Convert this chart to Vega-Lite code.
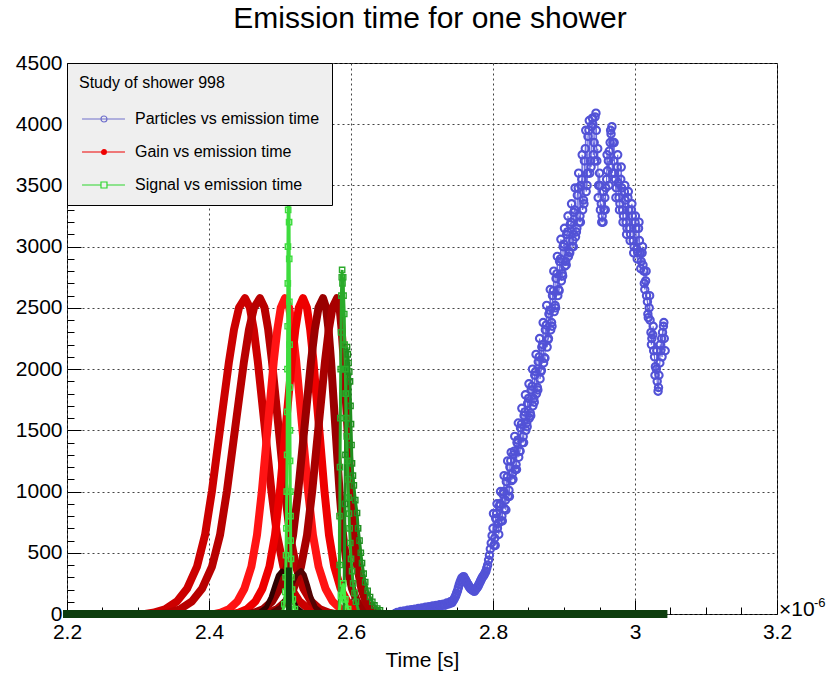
{
  "$schema": "https://vega.github.io/schema/vega-lite/v6.json",
  "width": 710,
  "height": 551,
  "autosize": {"type": "none"},
  "padding": {"left": 67, "top": 63, "right": 49, "bottom": 61},
  "background": "white",
  "title": {"text": "Emission time for one shower", "fontSize": 30, "fontWeight": "normal", "font": "Liberation Sans", "color": "#000", "anchor": "middle", "dx": 8, "offset": -6, "baseline": "alphabetic"},
  "config": {
    "font": "Liberation Sans",
    "view": {"stroke": "#000", "strokeWidth": 1},
    "axis": {"labelFont": "Liberation Sans", "titleFont": "Liberation Sans"}
  },
  "datasets": {
    "particles": [
      {"t":2.6625,"v":5},{"t":2.665,"v":12},{"t":2.6675,"v":8},{"t":2.67,"v":20},{"t":2.6725,"v":15},{"t":2.675,"v":25},{"t":2.6775,"v":18},{"t":2.68,"v":30},
      {"t":2.6825,"v":22},{"t":2.685,"v":35},{"t":2.6875,"v":28},{"t":2.69,"v":40},{"t":2.6925,"v":32},{"t":2.695,"v":45},{"t":2.6975,"v":38},{"t":2.7,"v":50},
      {"t":2.7025,"v":42},{"t":2.705,"v":55},{"t":2.7075,"v":48},{"t":2.71,"v":60},{"t":2.7125,"v":52},{"t":2.715,"v":65},{"t":2.7175,"v":58},{"t":2.72,"v":70},
      {"t":2.7225,"v":62},{"t":2.725,"v":75},{"t":2.7275,"v":68},{"t":2.73,"v":80},{"t":2.7325,"v":72},{"t":2.735,"v":90},{"t":2.7375,"v":82},{"t":2.74,"v":100},
      {"t":2.7425,"v":95},{"t":2.745,"v":120},{"t":2.7475,"v":150},{"t":2.75,"v":190},{"t":2.7525,"v":240},{"t":2.755,"v":280},{"t":2.7575,"v":300},{"t":2.76,"v":290},
      {"t":2.7625,"v":265},{"t":2.765,"v":240},{"t":2.7675,"v":215},{"t":2.77,"v":200},{"t":2.7725,"v":190},{"t":2.775,"v":195},{"t":2.7775,"v":215},{"t":2.78,"v":240},
      {"t":2.7825,"v":270},{"t":2.785,"v":300},{"t":2.7875,"v":320},{"t":2.79,"v":350},{"t":2.7925,"v":400},{"t":2.795,"v":480},{"t":2.7975,"v":580},
      {"t":2.74125,"v":90},{"t":2.74375,"v":110},{"t":2.74625,"v":135},{"t":2.74875,"v":170},{"t":2.75125,"v":215},{"t":2.75375,"v":260},{"t":2.75625,"v":295},{"t":2.75875,"v":305},
      {"t":2.76125,"v":280},{"t":2.76375,"v":250},{"t":2.76625,"v":225},{"t":2.76875,"v":205},{"t":2.77125,"v":195},{"t":2.77375,"v":185},{"t":2.77625,"v":205},{"t":2.77875,"v":225},
      {"t":2.78125,"v":255},{"t":2.78375,"v":285},{"t":2.78625,"v":310},{"t":2.78875,"v":335},{"t":2.79125,"v":375},{"t":2.79375,"v":440},{"t":2.79625,"v":530},{"t":2.79875,"v":640},
      {"t":2.8,"v":700},{"t":2.8025,"v":620},{"t":2.805,"v":820},{"t":2.8075,"v":740},{"t":2.81,"v":900},{"t":2.8125,"v":800},{"t":2.815,"v":1000},{"t":2.8175,"v":930},
      {"t":2.82,"v":1120},{"t":2.8225,"v":1010},{"t":2.825,"v":1250},{"t":2.8275,"v":1150},{"t":2.83,"v":1330},{"t":2.8325,"v":1220},{"t":2.835,"v":1420},{"t":2.8375,"v":1330},
      {"t":2.84,"v":1550},{"t":2.8425,"v":1450},{"t":2.845,"v":1650},{"t":2.8475,"v":1560},{"t":2.85,"v":1760},{"t":2.8525,"v":1640},{"t":2.855,"v":1860},{"t":2.8575,"v":1760},
      {"t":2.86,"v":1980},{"t":2.8625,"v":1850},{"t":2.865,"v":2100},{"t":2.8675,"v":1980},{"t":2.87,"v":2200},{"t":2.8725,"v":2090},{"t":2.875,"v":2360},{"t":2.8775,"v":2240},
      {"t":2.88,"v":2480},{"t":2.8825,"v":2380},{"t":2.885,"v":2640},{"t":2.8875,"v":2520},{"t":2.89,"v":2780},{"t":2.8925,"v":2650},{"t":2.895,"v":2900},{"t":2.8975,"v":2780},
      {"t":2.9,"v":3020},{"t":2.9025,"v":2880},{"t":2.905,"v":3120},{"t":2.9075,"v":2960},{"t":2.91,"v":3200},{"t":2.9125,"v":3050},{"t":2.915,"v":3300},{"t":2.9175,"v":3120},
      {"t":2.92,"v":3480},{"t":2.9225,"v":3250},{"t":2.925,"v":3550},{"t":2.9275,"v":3380},{"t":2.93,"v":3800},{"t":2.9325,"v":3500},{"t":2.935,"v":3950},{"t":2.9375,"v":3700},
      {"t":2.94,"v":4050},{"t":2.9425,"v":3850},{"t":2.945,"v":4090},{"t":2.9475,"v":3800},{"t":2.95,"v":3600},{"t":2.9525,"v":3350},{"t":2.955,"v":3200},{"t":2.9575,"v":3400},
      {"t":2.96,"v":3550},{"t":2.9625,"v":3700},{"t":2.965,"v":3850},{"t":2.9675,"v":3980},{"t":2.97,"v":3700},{"t":2.9725,"v":3550},{"t":2.975,"v":3650},{"t":2.9775,"v":3400},
      {"t":2.98,"v":3550},{"t":2.9825,"v":3300},{"t":2.985,"v":3450},{"t":2.9875,"v":3200},{"t":2.99,"v":3400},{"t":2.9925,"v":3150},{"t":2.995,"v":3300},{"t":2.9975,"v":3050},
      {"t":3.0,"v":3200},{"t":3.0025,"v":2980},{"t":3.005,"v":3150},{"t":3.0075,"v":2950},{"t":3.01,"v":2950},{"t":3.0125,"v":2800},{"t":3.015,"v":2720},{"t":3.0175,"v":2550},
      {"t":3.02,"v":2500},{"t":3.0225,"v":2300},{"t":3.025,"v":2280},{"t":3.0275,"v":2100},{"t":3.03,"v":2000},{"t":3.0325,"v":1820},{"t":3.035,"v":2050},{"t":3.0375,"v":2250},
      {"t":3.04,"v":2350},{"t":3.0425,"v":2150},
      {"t":2.80125,"v":560},{"t":2.80375,"v":780},{"t":2.80625,"v":700},{"t":2.80875,"v":880},{"t":2.81125,"v":760},{"t":2.81375,"v":980},{"t":2.81625,"v":860},{"t":2.81875,"v":1080},
      {"t":2.82125,"v":960},{"t":2.82375,"v":1200},{"t":2.82625,"v":1090},{"t":2.82875,"v":1300},{"t":2.83125,"v":1180},{"t":2.83375,"v":1400},{"t":2.83625,"v":1280},{"t":2.83875,"v":1520},
      {"t":2.84125,"v":1400},{"t":2.84375,"v":1620},{"t":2.84625,"v":1500},{"t":2.84875,"v":1720},{"t":2.85125,"v":1600},{"t":2.85375,"v":1830},{"t":2.85625,"v":1700},{"t":2.85875,"v":1950},
      {"t":2.86125,"v":1800},{"t":2.86375,"v":2060},{"t":2.86625,"v":1920},{"t":2.86875,"v":2180},{"t":2.87125,"v":2050},{"t":2.87375,"v":2320},{"t":2.87625,"v":2180},{"t":2.87875,"v":2450},
      {"t":2.88125,"v":2320},{"t":2.88375,"v":2600},{"t":2.88625,"v":2470},{"t":2.88875,"v":2740},{"t":2.89125,"v":2600},{"t":2.89375,"v":2880},{"t":2.89625,"v":2720},{"t":2.89875,"v":3000},
      {"t":2.90125,"v":2840},{"t":2.90375,"v":3100},{"t":2.90625,"v":2920},{"t":2.90875,"v":3180},{"t":2.91125,"v":3000},{"t":2.91375,"v":3280},{"t":2.91625,"v":3080},{"t":2.91875,"v":3420},
      {"t":2.92125,"v":3200},{"t":2.92375,"v":3500},{"t":2.92625,"v":3300},{"t":2.92875,"v":3700},{"t":2.93125,"v":3450},{"t":2.93375,"v":3900},{"t":2.93625,"v":3600},{"t":2.93875,"v":3980},
      {"t":2.94125,"v":3750},{"t":2.94375,"v":4060},{"t":2.94625,"v":3700},{"t":2.94875,"v":3500},{"t":2.95125,"v":3300},{"t":2.95375,"v":3250},{"t":2.95625,"v":3300},{"t":2.95875,"v":3480},
      {"t":2.96125,"v":3620},{"t":2.96375,"v":3780},{"t":2.96625,"v":3920},{"t":2.96875,"v":3850},{"t":2.97125,"v":3600},{"t":2.97375,"v":3480},{"t":2.97625,"v":3520},{"t":2.97875,"v":3350},
      {"t":2.98125,"v":3480},{"t":2.98375,"v":3250},{"t":2.98625,"v":3380},{"t":2.98875,"v":3150},{"t":2.99125,"v":3300},{"t":2.99375,"v":3100},{"t":2.99625,"v":3250},{"t":2.99875,"v":3000},
      {"t":3.00125,"v":3150},{"t":3.00375,"v":2950},{"t":3.00625,"v":3050},{"t":3.00875,"v":2880},{"t":3.01125,"v":2850},{"t":3.01375,"v":2650},{"t":3.01625,"v":2600},{"t":3.01875,"v":2420},
      {"t":3.02125,"v":2400},{"t":3.02375,"v":2250},{"t":3.02625,"v":2150},{"t":3.02875,"v":2020},{"t":3.03125,"v":1900},{"t":3.03375,"v":1950},{"t":3.03625,"v":2150},{"t":3.03875,"v":2300},
      {"t":3.04125,"v":2250},
      {"t":2.800625,"v":820},{"t":2.803125,"v":560},{"t":2.805625,"v":900},{"t":2.808125,"v":650},{"t":2.810625,"v":1000},{"t":2.813125,"v":760},{"t":2.815625,"v":1130},{"t":2.818125,"v":850},
      {"t":2.820625,"v":1250},{"t":2.823125,"v":960},{"t":2.825625,"v":1320},{"t":2.828125,"v":1100},{"t":2.830625,"v":1450},{"t":2.833125,"v":1180},{"t":2.835625,"v":1560},{"t":2.838125,"v":1330},
      {"t":2.840625,"v":1680},{"t":2.843125,"v":1400},{"t":2.845625,"v":1790},{"t":2.848125,"v":1530},{"t":2.850625,"v":1880},{"t":2.853125,"v":1620},{"t":2.855625,"v":2000},{"t":2.858125,"v":1730},
      {"t":2.860625,"v":2120},{"t":2.863125,"v":1830},{"t":2.865625,"v":2250},{"t":2.868125,"v":1990},{"t":2.870625,"v":2380},{"t":2.873125,"v":2090},{"t":2.875625,"v":2520},{"t":2.878125,"v":2250},
      {"t":2.880625,"v":2650},{"t":2.883125,"v":2350},{"t":2.885625,"v":2800},{"t":2.888125,"v":2500},{"t":2.890625,"v":2920},{"t":2.893125,"v":2640},{"t":2.895625,"v":3060},{"t":2.898125,"v":2760},
      {"t":2.900625,"v":3150},{"t":2.903125,"v":2850},{"t":2.905625,"v":3250},{"t":2.908125,"v":2950},{"t":2.910625,"v":3350},{"t":2.913125,"v":3000},{"t":2.915625,"v":3480},{"t":2.918125,"v":3150},
      {"t":2.920625,"v":3600},{"t":2.923125,"v":3200},{"t":2.925625,"v":3750},{"t":2.928125,"v":3350},{"t":2.930625,"v":3950},{"t":2.933125,"v":3600},{"t":2.935625,"v":4030},{"t":2.938125,"v":3650},
      {"t":2.940625,"v":4000},{"t":2.943125,"v":3700},{"t":2.945625,"v":3950},{"t":2.948125,"v":3400},{"t":2.950625,"v":3500},{"t":2.953125,"v":3200},{"t":2.955625,"v":3450},{"t":2.958125,"v":3300},
      {"t":2.960625,"v":3750},{"t":2.963125,"v":3500},{"t":2.965625,"v":3950},{"t":2.968125,"v":3600},{"t":2.970625,"v":3850},{"t":2.973125,"v":3400},{"t":2.975625,"v":3750},{"t":2.978125,"v":3300},
      {"t":2.980625,"v":3650},{"t":2.983125,"v":3200},{"t":2.985625,"v":3500},{"t":2.988125,"v":3100},{"t":2.990625,"v":3450},{"t":2.993125,"v":3050},{"t":2.995625,"v":3350},{"t":2.998125,"v":2950},
      {"t":3.000625,"v":3250},{"t":3.003125,"v":2900},{"t":3.005625,"v":3200},{"t":3.008125,"v":2820},{"t":3.010625,"v":3000},{"t":3.013125,"v":2700},{"t":3.015625,"v":2800},{"t":3.018125,"v":2450},
      {"t":3.020625,"v":2600},{"t":3.023125,"v":2200},{"t":3.025625,"v":2350},{"t":3.028125,"v":1950},{"t":3.030625,"v":2150},{"t":3.033125,"v":1850},{"t":3.035625,"v":2200},{"t":3.038125,"v":2100},
      {"t":3.040625,"v":2380}
    ],
    "gain": [
      {"curve":"A","t":2.3099,"v":0},{"curve":"A","t":2.3211,"v":10},{"curve":"A","t":2.338,"v":39},{"curve":"A","t":2.3549,"v":103},{"curve":"A","t":2.369,"v":206},{"curve":"A","t":2.3831,"v":387},{"curve":"A","t":2.3944,"v":645},{"curve":"A","t":2.4042,"v":1006},{"curve":"A","t":2.4141,"v":1445},{"curve":"A","t":2.4211,"v":1754},{"curve":"A","t":2.4282,"v":2064},{"curve":"A","t":2.4352,"v":2322},{"curve":"A","t":2.4423,"v":2503},{"curve":"A","t":2.4507,"v":2580},
      {"curve":"A","t":2.4575,"v":2503},{"curve":"A","t":2.4631,"v":2322},{"curve":"A","t":2.4687,"v":2064},{"curve":"A","t":2.4744,"v":1754},{"curve":"A","t":2.48,"v":1445},{"curve":"A","t":2.4879,"v":1006},{"curve":"A","t":2.4958,"v":645},{"curve":"A","t":2.5048,"v":387},{"curve":"A","t":2.5161,"v":206},{"curve":"A","t":2.5273,"v":103},{"curve":"A","t":2.5408,"v":39},{"curve":"A","t":2.5544,"v":10},{"curve":"A","t":2.5634,"v":0},
      {"curve":"B","t":2.331,"v":0},{"curve":"B","t":2.3422,"v":10},{"curve":"B","t":2.3591,"v":39},{"curve":"B","t":2.376,"v":103},{"curve":"B","t":2.3901,"v":206},{"curve":"B","t":2.4042,"v":387},{"curve":"B","t":2.4155,"v":645},{"curve":"B","t":2.4253,"v":1006},{"curve":"B","t":2.4352,"v":1445},{"curve":"B","t":2.4422,"v":1754},{"curve":"B","t":2.4493,"v":2064},{"curve":"B","t":2.4563,"v":2322},{"curve":"B","t":2.4634,"v":2503},{"curve":"B","t":2.4718,"v":2580},
      {"curve":"B","t":2.4781,"v":2503},{"curve":"B","t":2.4834,"v":2322},{"curve":"B","t":2.4887,"v":2064},{"curve":"B","t":2.494,"v":1754},{"curve":"B","t":2.4993,"v":1445},{"curve":"B","t":2.5067,"v":1006},{"curve":"B","t":2.5141,"v":645},{"curve":"B","t":2.5225,"v":387},{"curve":"B","t":2.5331,"v":206},{"curve":"B","t":2.5436,"v":103},{"curve":"B","t":2.5563,"v":39},{"curve":"B","t":2.569,"v":10},{"curve":"B","t":2.5774,"v":0},
      {"curve":"C","t":2.4084,"v":0},{"curve":"C","t":2.4163,"v":10},{"curve":"C","t":2.4281,"v":39},{"curve":"C","t":2.44,"v":103},{"curve":"C","t":2.4498,"v":206},{"curve":"C","t":2.4597,"v":387},{"curve":"C","t":2.4676,"v":645},{"curve":"C","t":2.4745,"v":1006},{"curve":"C","t":2.4814,"v":1445},{"curve":"C","t":2.4863,"v":1754},{"curve":"C","t":2.4912,"v":2064},{"curve":"C","t":2.4962,"v":2322},{"curve":"C","t":2.5011,"v":2503},{"curve":"C","t":2.507,"v":2580},
      {"curve":"C","t":2.5129,"v":2503},{"curve":"C","t":2.5178,"v":2322},{"curve":"C","t":2.5228,"v":2064},{"curve":"C","t":2.5277,"v":1754},{"curve":"C","t":2.5326,"v":1445},{"curve":"C","t":2.5395,"v":1006},{"curve":"C","t":2.5464,"v":645},{"curve":"C","t":2.5543,"v":387},{"curve":"C","t":2.5642,"v":206},{"curve":"C","t":2.574,"v":103},{"curve":"C","t":2.5859,"v":39},{"curve":"C","t":2.5977,"v":10},{"curve":"C","t":2.6056,"v":0},
      {"curve":"D","t":2.4338,"v":0},{"curve":"D","t":2.4417,"v":10},{"curve":"D","t":2.4535,"v":39},{"curve":"D","t":2.4654,"v":103},{"curve":"D","t":2.4752,"v":206},{"curve":"D","t":2.4851,"v":387},{"curve":"D","t":2.493,"v":645},{"curve":"D","t":2.4999,"v":1006},{"curve":"D","t":2.5068,"v":1445},{"curve":"D","t":2.5117,"v":1754},{"curve":"D","t":2.5166,"v":2064},{"curve":"D","t":2.5216,"v":2322},{"curve":"D","t":2.5265,"v":2503},{"curve":"D","t":2.5324,"v":2580},
      {"curve":"D","t":2.5379,"v":2503},{"curve":"D","t":2.5425,"v":2322},{"curve":"D","t":2.5471,"v":2064},{"curve":"D","t":2.5516,"v":1754},{"curve":"D","t":2.5562,"v":1445},{"curve":"D","t":2.5626,"v":1006},{"curve":"D","t":2.569,"v":645},{"curve":"D","t":2.5764,"v":387},{"curve":"D","t":2.5855,"v":206},{"curve":"D","t":2.5947,"v":103},{"curve":"D","t":2.6056,"v":39},{"curve":"D","t":2.6166,"v":10},{"curve":"D","t":2.624,"v":0},
      {"curve":"E","t":2.455,"v":0},{"curve":"E","t":2.4634,"v":10},{"curve":"E","t":2.4761,"v":39},{"curve":"E","t":2.4888,"v":103},{"curve":"E","t":2.4993,"v":206},{"curve":"E","t":2.5099,"v":387},{"curve":"E","t":2.5184,"v":645},{"curve":"E","t":2.5257,"v":1006},{"curve":"E","t":2.5331,"v":1445},{"curve":"E","t":2.5384,"v":1754},{"curve":"E","t":2.5437,"v":2064},{"curve":"E","t":2.549,"v":2322},{"curve":"E","t":2.5543,"v":2503},{"curve":"E","t":2.5606,"v":2580},
      {"curve":"E","t":2.5648,"v":2503},{"curve":"E","t":2.5684,"v":2322},{"curve":"E","t":2.5719,"v":2064},{"curve":"E","t":2.5754,"v":1754},{"curve":"E","t":2.5789,"v":1445},{"curve":"E","t":2.5838,"v":1006},{"curve":"E","t":2.5888,"v":645},{"curve":"E","t":2.5944,"v":387},{"curve":"E","t":2.6015,"v":206},{"curve":"E","t":2.6085,"v":103},{"curve":"E","t":2.6169,"v":39},{"curve":"E","t":2.6254,"v":10},{"curve":"E","t":2.631,"v":0},
      {"curve":"F","t":2.4747,"v":0},{"curve":"F","t":2.4831,"v":10},{"curve":"F","t":2.4958,"v":39},{"curve":"F","t":2.5085,"v":103},{"curve":"F","t":2.519,"v":206},{"curve":"F","t":2.5296,"v":387},{"curve":"F","t":2.5381,"v":645},{"curve":"F","t":2.5454,"v":1006},{"curve":"F","t":2.5528,"v":1445},{"curve":"F","t":2.5581,"v":1754},{"curve":"F","t":2.5634,"v":2064},{"curve":"F","t":2.5687,"v":2322},{"curve":"F","t":2.574,"v":2503},{"curve":"F","t":2.5803,"v":2580},
      {"curve":"F","t":2.5839,"v":2503},{"curve":"F","t":2.5868,"v":2322},{"curve":"F","t":2.5898,"v":2064},{"curve":"F","t":2.5927,"v":1754},{"curve":"F","t":2.5957,"v":1445},{"curve":"F","t":2.5998,"v":1006},{"curve":"F","t":2.604,"v":645},{"curve":"F","t":2.6087,"v":387},{"curve":"F","t":2.6146,"v":206},{"curve":"F","t":2.6205,"v":103},{"curve":"F","t":2.6276,"v":39},{"curve":"F","t":2.6347,"v":10},{"curve":"F","t":2.6395,"v":0}
    ],
    "smallgain": [
      {"curve":"K1","t":2.4563,"v":0},{"curve":"K1","t":2.4712,"v":14},{"curve":"K1","t":2.4805,"v":53},{"curve":"K1","t":2.4874,"v":137},{"curve":"K1","t":2.4931,"v":238},{"curve":"K1","t":2.4977,"v":315},{"curve":"K1","t":2.5028,"v":350},
      {"curve":"K1","t":2.5074,"v":315},{"curve":"K1","t":2.5117,"v":238},{"curve":"K1","t":2.5167,"v":137},{"curve":"K1","t":2.5231,"v":53},{"curve":"K1","t":2.5315,"v":14},{"curve":"K1","t":2.5451,"v":0},
      {"curve":"K2","t":2.469,"v":0},{"curve":"K2","t":2.4885,"v":14},{"curve":"K2","t":2.5006,"v":53},{"curve":"K2","t":2.5096,"v":138},{"curve":"K2","t":2.5169,"v":241},{"curve":"K2","t":2.523,"v":320},{"curve":"K2","t":2.5296,"v":355},
      {"curve":"K2","t":2.5342,"v":320},{"curve":"K2","t":2.5385,"v":241},{"curve":"K2","t":2.5435,"v":138},{"curve":"K2","t":2.5499,"v":53},{"curve":"K2","t":2.5583,"v":14},{"curve":"K2","t":2.5719,"v":0}
    ],
    "signal": [
      {"curve":"G3","t":2.59,"v":0},{"curve":"G3","t":2.5915,"v":900},{"curve":"G3","t":2.5922,"v":1300},{"curve":"G3","t":2.593,"v":1800},{"curve":"G3","t":2.5937,"v":2000},{"curve":"G3","t":2.5944,"v":2180},{"curve":"G3","t":2.5955,"v":2120},{"curve":"G3","t":2.5965,"v":2050},{"curve":"G3","t":2.5975,"v":1980},{"curve":"G3","t":2.5986,"v":1900},{"curve":"G3","t":2.5993,"v":1700},{"curve":"G3","t":2.6,"v":1550},{"curve":"G3","t":2.6007,"v":1380},{"curve":"G3","t":2.6014,"v":1230},{"curve":"G3","t":2.6027,"v":1130},{"curve":"G3","t":2.604,"v":1050},{"curve":"G3","t":2.606,"v":930},{"curve":"G3","t":2.6085,"v":825},{"curve":"G3","t":2.61,"v":700},{"curve":"G3","t":2.612,"v":600},{"curve":"G3","t":2.6138,"v":500},{"curve":"G3","t":2.6155,"v":416},{"curve":"G3","t":2.6178,"v":330},{"curve":"G3","t":2.62,"v":260},{"curve":"G3","t":2.6234,"v":190},{"curve":"G3","t":2.6268,"v":139},{"curve":"G3","t":2.63,"v":100},{"curve":"G3","t":2.633,"v":70},{"curve":"G3","t":2.637,"v":45},{"curve":"G3","t":2.6408,"v":30},{"curve":"G3","t":2.648,"v":0},
      {"curve":"G2","t":2.5835,"v":0},{"curve":"G2","t":2.5838,"v":800},{"curve":"G2","t":2.584,"v":400},{"curve":"G2","t":2.5845,"v":1200},{"curve":"G2","t":2.585,"v":1600},{"curve":"G2","t":2.5855,"v":2000},{"curve":"G2","t":2.586,"v":2300},{"curve":"G2","t":2.5865,"v":2600},{"curve":"G2","t":2.587,"v":2750},{"curve":"G2","t":2.5875,"v":2810},{"curve":"G2","t":2.588,"v":2700},{"curve":"G2","t":2.589,"v":2750},{"curve":"G2","t":2.5895,"v":2600},{"curve":"G2","t":2.5905,"v":2450},{"curve":"G2","t":2.591,"v":2200},{"curve":"G2","t":2.592,"v":2000},{"curve":"G2","t":2.5925,"v":1800},{"curve":"G2","t":2.5935,"v":1600},{"curve":"G2","t":2.594,"v":1450},{"curve":"G2","t":2.595,"v":1250},{"curve":"G2","t":2.5958,"v":1100},{"curve":"G2","t":2.5965,"v":950},{"curve":"G2","t":2.5972,"v":820},{"curve":"G2","t":2.598,"v":700},{"curve":"G2","t":2.599,"v":580},{"curve":"G2","t":2.6,"v":450},{"curve":"G2","t":2.6015,"v":350},{"curve":"G2","t":2.603,"v":250},{"curve":"G2","t":2.605,"v":170},{"curve":"G2","t":2.607,"v":100},{"curve":"G2","t":2.612,"v":0},
      {"curve":"G1","t":2.503,"v":0},{"curve":"G1","t":2.506,"v":80},{"curve":"G1","t":2.5075,"v":180},{"curve":"G1","t":2.508,"v":300},{"curve":"G1","t":2.5085,"v":480},{"curve":"G1","t":2.509,"v":700},{"curve":"G1","t":2.5095,"v":1000},{"curve":"G1","t":2.51,"v":1300},{"curve":"G1","t":2.5102,"v":1650},{"curve":"G1","t":2.5105,"v":2000},{"curve":"G1","t":2.5108,"v":2350},{"curve":"G1","t":2.511,"v":2700},{"curve":"G1","t":2.5112,"v":3000},{"curve":"G1","t":2.5115,"v":3300},{"curve":"G1","t":2.5118,"v":3500},{"curve":"G1","t":2.512,"v":3700},{"curve":"G1","t":2.5122,"v":3650},{"curve":"G1","t":2.5125,"v":3500},{"curve":"G1","t":2.5128,"v":3200},{"curve":"G1","t":2.513,"v":2900},{"curve":"G1","t":2.5132,"v":2550},{"curve":"G1","t":2.5135,"v":2200},{"curve":"G1","t":2.5138,"v":1850},{"curve":"G1","t":2.514,"v":1500},{"curve":"G1","t":2.5142,"v":1250},{"curve":"G1","t":2.5145,"v":1000},{"curve":"G1","t":2.5148,"v":800},{"curve":"G1","t":2.515,"v":600},{"curve":"G1","t":2.5155,"v":450},{"curve":"G1","t":2.516,"v":300},{"curve":"G1","t":2.517,"v":200},{"curve":"G1","t":2.518,"v":120},{"curve":"G1","t":2.521,"v":40},{"curve":"G1","t":2.525,"v":0},
      {"curve":"G4","t":2.583,"v":0},{"curve":"G4","t":2.586,"v":150},{"curve":"G4","t":2.589,"v":250},{"curve":"G4","t":2.592,"v":120},{"curve":"G4","t":2.596,"v":40},{"curve":"G4","t":2.6,"v":0}
    ],
    "floor": [
      {"part":"base","t":2.2,"v":0},{"part":"base","t":3.04,"v":0},
      {"part":"stem","t":2.5125,"v":0},{"part":"stem","t":2.5125,"v":380}
    ],
    "exponent": [
      {"t":3.2,"v":0,"s":"×10","p":"-6"}
    ],
    "entries": [
      {"entry":"Particles vs emission time","t":2.0,"v":0},
      {"entry":"Gain vs emission time","t":2.0,"v":0},
      {"entry":"Signal vs emission time","t":2.0,"v":0}
    ]
  },
  "encoding": {
    "x": {
      "field": "t", "type": "quantitative",
      "scale": {"domain": [2.2, 3.2], "nice": false, "zero": false},
      "axis": {
        "title": "Time [s]", "titleFontSize": 21, "titleFontWeight": "normal", "titleColor": "#000", "titleY": 52, "titleBaseline": "alphabetic",
        "values": [2.2, 2.25, 2.3, 2.35, 2.4, 2.45, 2.5, 2.55, 2.6, 2.65, 2.7, 2.75, 2.8, 2.85, 2.9, 2.95, 3.0, 3.05, 3.1, 3.15, 3.2],
        "labelExpr": "abs(datum.value * 5 - round(datum.value * 5)) < 0.001 ? format(datum.value, '~g') : ''",
        "labelFontSize": 21, "labelColor": "#000", "labelPadding": 21, "labelFlush": false, "labelOverlap": false,
        "tickSize": {"condition": {"test": "abs(datum.value * 5 - round(datum.value * 5)) < 0.001", "value": -14}, "value": -7},
        "tickColor": "#000", "tickWidth": 1,
        "grid": true, "gridColor": "#444", "gridDash": [2, 3], "gridWidth": 1,
        "gridOpacity": {"condition": {"test": "abs(datum.value * 5 - round(datum.value * 5)) < 0.001", "value": 1}, "value": 0},
        "domain": false
      }
    },
    "y": {
      "field": "v", "type": "quantitative",
      "scale": {"domain": [0, 4500], "nice": false},
      "axis": {
        "title": null,
        "values": [0,100,200,300,400,500,600,700,800,900,1000,1100,1200,1300,1400,1500,1600,1700,1800,1900,2000,2100,2200,2300,2400,2500,2600,2700,2800,2900,3000,3100,3200,3300,3400,3500,3600,3700,3800,3900,4000,4100,4200,4300,4400,4500],
        "labelExpr": "datum.value % 500 === 0 ? format(datum.value, 'd') : ''",
        "labelFontSize": 21, "labelColor": "#000", "labelPadding": 19, "labelOverlap": false,
        "tickSize": {"condition": {"test": "datum.value % 500 === 0", "value": -14}, "value": -7},
        "tickColor": "#000", "tickWidth": 1,
        "grid": true, "gridColor": "#444", "gridDash": [2, 3], "gridWidth": 1,
        "gridOpacity": {"condition": {"test": "datum.value % 500 === 0", "value": 1}, "value": 0},
        "domain": false
      }
    }
  },
  "layer": [
    {
      "data": {"name": "particles"},
      "mark": {"type": "line", "color": "#6a6ae0", "strokeWidth": 1.2, "clip": true}
    },
    {
      "data": {"name": "particles"},
      "mark": {"type": "point", "shape": "circle", "filled": false, "color": "#5252d6", "size": 54, "strokeWidth": 2.1, "opacity": 1, "clip": true}
    },
    {
      "data": {"name": "gain"},
      "mark": {"type": "line", "strokeWidth": 8, "strokeCap": "round", "strokeJoin": "round", "clip": true},
      "encoding": {
        "color": {"field": "curve", "type": "nominal", "legend": null,
          "scale": {"domain": ["A", "B", "C", "D", "E", "F"], "range": ["#cc0000", "#b80000", "#ff1414", "#ee0000", "#990000", "#a80000"]}}
      }
    },
    {
      "data": {"name": "smallgain"},
      "mark": {"type": "line", "strokeWidth": 5, "strokeCap": "round", "strokeJoin": "round", "clip": true},
      "encoding": {
        "color": {"field": "curve", "type": "nominal", "legend": null,
          "scale": {"domain": ["K1", "K2"], "range": ["#300000", "#520303"]}}
      }
    },
    {
      "data": {"name": "signal"},
      "mark": {"type": "line", "strokeWidth": 3, "clip": true},
      "encoding": {
        "color": {"field": "curve", "type": "nominal", "legend": null,
          "scale": {"domain": ["G1", "G2", "G3", "G4"], "range": ["#3ddc3d", "#2aaa2a", "#1f8f1f", "#44ee44"]}}
      }
    },
    {
      "data": {"name": "signal"},
      "mark": {"type": "point", "shape": "square", "filled": false, "size": 28, "strokeWidth": 1.4, "opacity": 1, "clip": true},
      "encoding": {
        "color": {"field": "curve", "type": "nominal", "legend": null,
          "scale": {"domain": ["G1", "G2", "G3", "G4"], "range": ["#3ddc3d", "#2aaa2a", "#1f8f1f", "#44ee44"]}}
      }
    },
    {
      "data": {"name": "floor"},
      "transform": [{"filter": "datum.part === 'stem'"}],
      "mark": {"type": "line", "color": "#0d3d0d", "strokeWidth": 6},
      "encoding": {}
    },
    {
      "data": {"name": "floor"},
      "transform": [{"filter": "datum.part === 'base'"}],
      "mark": {"type": "line", "color": "#0d3d0d", "strokeWidth": 8, "strokeCap": "square"},
      "encoding": {}
    },
    {
      "data": {"name": "exponent"},
      "mark": {"type": "text", "align": "left", "baseline": "alphabetic", "dx": 2, "dy": 2, "fontSize": 21, "font": "Liberation Sans", "color": "#000"},
      "encoding": {"text": {"field": "s"}}
    },
    {
      "data": {"name": "exponent"},
      "mark": {"type": "text", "align": "left", "baseline": "alphabetic", "dx": 37, "dy": -7, "fontSize": 13, "font": "Liberation Sans", "color": "#000"},
      "encoding": {"text": {"field": "p"}}
    },
    {
      "data": {"name": "entries"},
      "mark": {"type": "point", "filled": false, "opacity": 1, "clip": true},
      "encoding": {
        "color": {
          "field": "entry", "type": "nominal",
          "scale": {"domain": ["Particles vs emission time", "Gain vs emission time", "Signal vs emission time"], "range": ["#7070cc", "#ee0000", "#2fd62f"]},
          "legend": {
            "title": "Study of shower 998", "orient": "none", "legendX": 0, "legendY": 0,
            "fillColor": "#efefef", "strokeColor": "#000", "padding": 12,
            "titleFontSize": 16, "titleFontWeight": "normal", "titleColor": "#000", "titleFont": "Liberation Sans", "titlePadding": 20, "titleLimit": 300,
            "labelFontSize": 16, "labelColor": "#000", "labelFont": "Liberation Sans", "labelLimit": 300, "labelOffset": 40,
            "symbolSize": 144, "symbolStrokeWidth": 1.2, "symbolOpacity": 1, "rowPadding": 17, "direction": "vertical"
          }
        },
        "shape": {
          "field": "entry", "type": "nominal",
          "scale": {"domain": ["Particles vs emission time", "Gain vs emission time", "Signal vs emission time"],
            "range": [
              "M-0.83,0H6.33M2.33,0a0.5,0.5 0 1,0 1,0a0.5,0.5 0 1,0 -1,0",
              "M-0.83,0H6.33M2.43,0a0.4,0.4 0 1,0 0.8,0a0.4,0.4 0 1,0 -0.8,0M2.63,0a0.2,0.2 0 1,0 0.4,0a0.2,0.2 0 1,0 -0.4,0",
              "M-0.83,0H2.33M3.33,0H6.33M2.33,-0.5H3.33V0.5H2.33Z"
            ]},
          "legend": {
            "title": "Study of shower 998", "orient": "none", "legendX": 0, "legendY": 0,
            "fillColor": "#efefef", "strokeColor": "#000", "padding": 12,
            "titleFontSize": 16, "titleFontWeight": "normal", "titleColor": "#000", "titleFont": "Liberation Sans", "titlePadding": 20, "titleLimit": 300,
            "labelFontSize": 16, "labelColor": "#000", "labelFont": "Liberation Sans", "labelLimit": 300, "labelOffset": 40,
            "symbolSize": 144, "symbolStrokeWidth": 1.2, "symbolOpacity": 1, "rowPadding": 17, "direction": "vertical"
          }
        }
      }
    }
  ],
  "resolve": {"scale": {"color": "independent", "shape": "independent"}}
}
